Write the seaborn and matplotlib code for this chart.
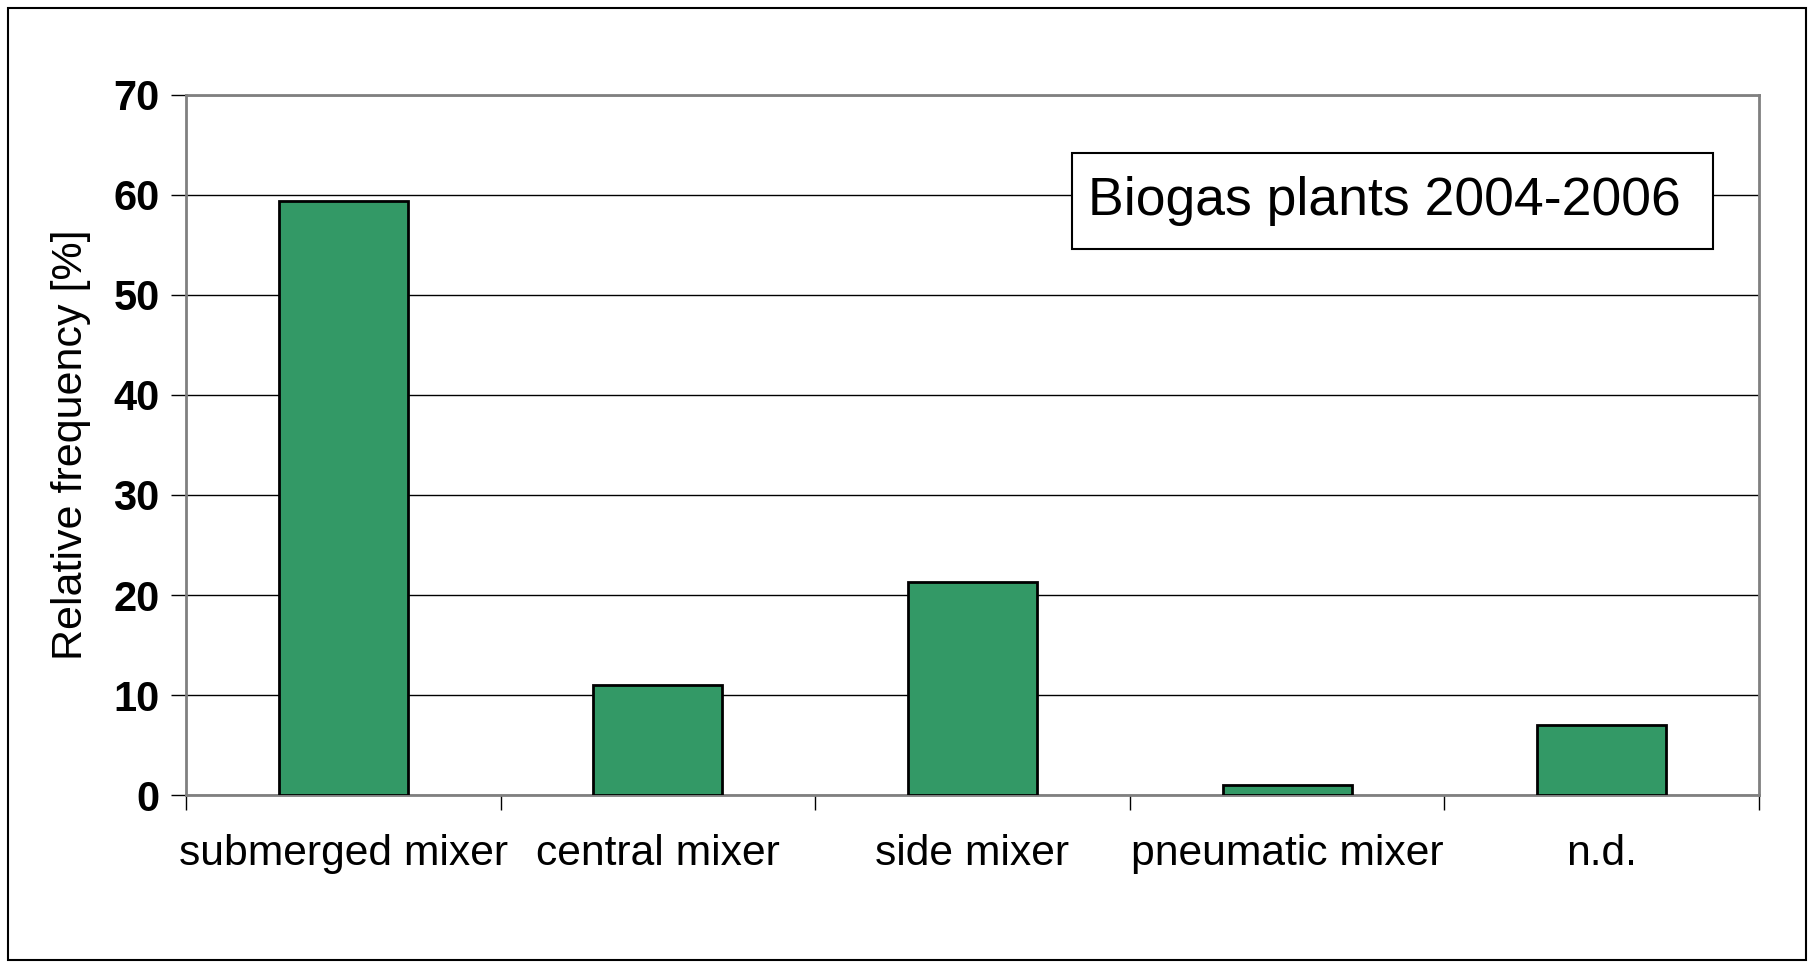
import matplotlib
matplotlib.use("Agg")
import matplotlib.pyplot as plt
import seaborn as sns
import pandas as pd
from matplotlib.patches import Rectangle
from matplotlib.ticker import FixedLocator

# data
mixer_types = ['submerged mixer', 'central mixer', 'side mixer', 'pneumatic mixer', 'n.d.']
rel_freq = [59.4, 11.0, 21.3, 1.0, 7.0]
y_ticks = [0, 10, 20, 30, 40, 50, 60, 70]

df = pd.DataFrame({'type': mixer_types, 'freq': rel_freq})

sns.set_style("white")
plt.rcParams['font.family'] = ['Liberation Sans', 'DejaVu Sans']
plt.rcParams['text.color'] = 'black'
plt.rcParams['axes.labelcolor'] = 'black'
plt.rcParams['xtick.color'] = 'black'
plt.rcParams['ytick.color'] = 'black'

fig = plt.figure(figsize=(18.14, 9.68), dpi=100)
ax = fig.add_axes([0.1025, 0.1787, 0.8672, 0.7232])

sns.barplot(data=df, x='type', y='freq', color='#339966', saturation=1,
            edgecolor='black', linewidth=2, width=0.41, ax=ax, zorder=3)

ax.set_ylim(0, 70)
ax.set_xlim(-0.5, len(mixer_types) - 0.5)
ax.set_yticks(y_ticks)
ax.set_yticklabels([str(t) for t in y_ticks], fontsize=30, fontweight='bold')
ax.grid(axis='y', color='black', linewidth=1, zorder=0)
ax.set_axisbelow(True)

# category labels without ticks, ticks between categories
ax.set_xticks(range(len(mixer_types)))
ax.set_xticklabels(mixer_types, fontsize=30.7)
ax.tick_params(axis='x', which='major', length=0, pad=28)
ax.xaxis.set_minor_locator(FixedLocator([i - 0.5 for i in range(len(mixer_types) + 1)]))
ax.tick_params(axis='x', which='minor', length=11, width=1, color='black', direction='out', bottom=True)
ax.tick_params(axis='y', length=11, width=1, color='black', direction='out', left=True, pad=8)

for s in ax.spines.values():
    s.set_color('#808080')
    s.set_linewidth(2)

ax.set_xlabel('')
ax.set_ylabel('Relative frequency [%]', fontsize=31, labelpad=16)

# legend-like label box
ax.add_patch(Rectangle((0.563, 0.78), 0.408, 0.137, transform=ax.transAxes,
                       facecolor='white', edgecolor='black', linewidth=1.5, zorder=4))
ax.text(0.5735, 0.849, 'Biogas plants 2004-2006', transform=ax.transAxes,
        fontsize=38.5, ha='left', va='center', zorder=5)

# outer frame around the whole chart
fig.patches.append(Rectangle((0.0045, 0.008), 0.991, 0.984, transform=fig.transFigure,
                             fill=False, edgecolor='black', linewidth=1.5))

fig.savefig('out.png', dpi=100)
